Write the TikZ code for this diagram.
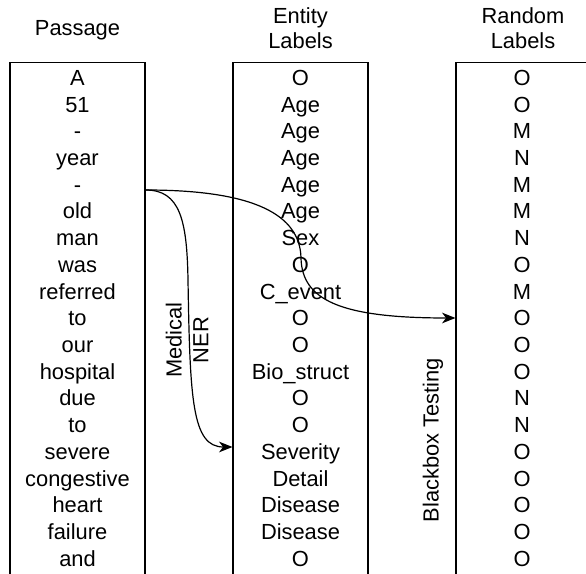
\documentclass[tikz,border=0pt]{standalone}
\usepackage{fontspec}
\setmainfont{Liberation Sans}
\usetikzlibrary{arrows.meta}

\begin{document}
\begin{tikzpicture}[x=0.75pt, y=-0.75pt,
    font=\fontsize{16.4}{20}\selectfont,
    col/.style={draw, line width=0.9pt, minimum width=101.25pt, minimum height=420pt, anchor=north},
    word/.style={anchor=base, inner sep=1pt},
    flow/.style={-{Stealth[length=10pt, width=8pt, inset=3pt]}, line width=0.9pt}]
    \useasboundingbox (0,0) rectangle (586,574);

    % headers
    \node[word] (hpass) at (77.5,35.7) {Passage};
    \node[align=center, font=\fontsize{16.4}{18.75}\selectfont] (hent) at (300.5,28) {Entity\\Labels};
    \node[align=center, font=\fontsize{16.4}{18.75}\selectfont] (hrand) at (523,28) {Random\\Labels};

    % columns, open at the bottom
    \node[col] (passage) at (77.5,62) {};
    \node[col] (entity) at (300.5,62) {};
    \node[col] (random) at (523.5,62) {};

    \foreach \w [count=\i from 0] in {A, 51, -, year, -, old, man, was, referred, to,
        our, hospital, due, to, severe, congestive, heart, failure, and}
        \node[word] (p\i) at (77.5, 85.5+26.7*\i) {\w};

    \foreach \w [count=\i from 0] in {O, Age, Age, Age, Age, Age, Sex, O, C\_event, O,
        O, Bio\_struct, O, O, Severity, Detail, Disease, Disease, O}
        \node[word] (e\i) at (300.5, 85.5+26.7*\i) {\w};

    \foreach \w [count=\i from 0] in {O, O, M, N, M, M, N, O, M, O,
        O, O, N, N, O, O, O, O, O}
        \node[word] (r\i) at (522, 85.5+26.7*\i) {\w};

    \coordinate (fork) at (passage.east |- 0,190);
    \coordinate (nerin) at (entity.west |- 0,447);
    \coordinate (bbin) at (random.west |- 0,318);

    % medical NER
    \draw[flow] (fork) .. controls (180,190) and (187,220) .. (188,280)
        .. controls (190,400) and (192,447) .. (nerin);
    \node[rotate=90, align=center] (nerlabel) at (187,340) {Medical\\NER};

    % blackbox testing
    \draw[flow] (fork) .. controls (255,190) and (300,215) .. (301,258)
        .. controls (302,300) and (340,318) .. (bbin);
    \node[rotate=90] (bblabel) at (433,440) {Blackbox Testing};
\end{tikzpicture}
\end{document}
